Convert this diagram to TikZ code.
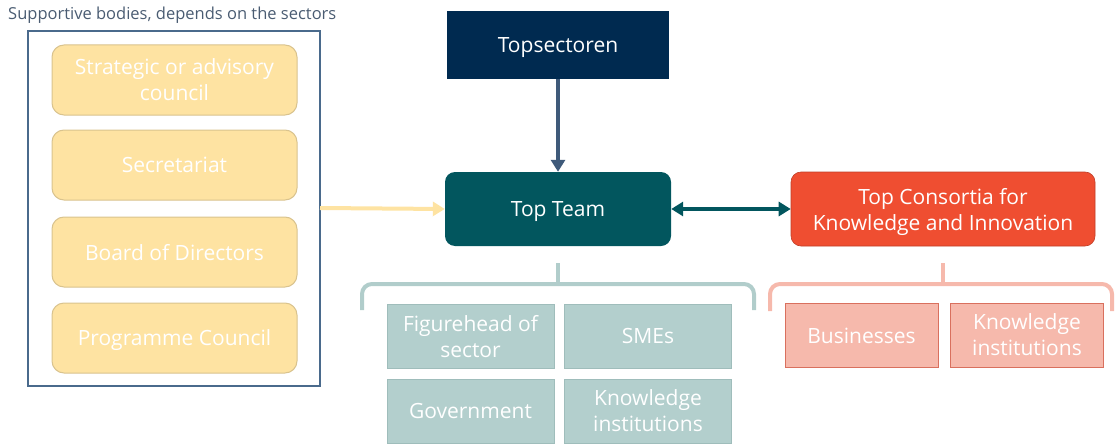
\documentclass[tikz,border=0pt]{standalone}
\usepackage{fontspec}
\setmainfont{Open Sans}
\usetikzlibrary{arrows.meta}
\definecolor{navy}{HTML}{002A50}
\definecolor{teamc}{HTML}{02565E}
\definecolor{consc}{HTML}{EF4E31}
\definecolor{yelf}{HTML}{FEE3A2}
\definecolor{yeld}{HTML}{D9C38E}
\definecolor{tealf}{HTML}{B3CFCD}
\definecolor{teald}{HTML}{9FBDBB}
\definecolor{pinkf}{HTML}{F6B9AC}
\definecolor{pinkd}{HTML}{D9705E}
\definecolor{slate}{HTML}{4A6A8C}
\definecolor{arrdown}{HTML}{3F5A7A}
\definecolor{titlec}{HTML}{4A5C72}
\tikzset{
  txt/.style={font=\fontsize{21}{26}\selectfont, text=white, align=center, inner sep=0pt, text depth=-1.5pt},
  yelbox/.style={txt, draw=yeld, fill=yelf, line width=1pt, rounded corners=12pt, minimum width=245pt, minimum height=70pt},
  tealbox/.style={txt, draw=teald, fill=tealf, line width=1pt, minimum width=167pt, minimum height=64pt},
  pinkbox/.style={txt, draw=pinkd, fill=pinkf, line width=1pt, minimum width=153pt, minimum height=64pt},
  bigarrow/.style={line width=4pt, -{Triangle[length=12pt,width=14pt]}},
  bracec/.style={line width=4pt, rounded corners=10pt}
}
\begin{document}
\begin{tikzpicture}[x=1pt,y=-1pt]
\useasboundingbox (0,0) rectangle (1115,444);
% title
\node[anchor=west, inner sep=0pt, text=titlec, font=\fontsize{16.5}{18}\selectfont] (title) at (8,15) {Supportive bodies, depends on the sectors};
% outer frame
\draw[slate, line width=1.2pt] (28,31) rectangle (320,386);
\coordinate (frameR) at (320,208);
% yellow boxes
\node[yelbox] (strat) at (174.5,80) {Strategic or advisory\\council};
\node[yelbox] (secr) at (174.5,165) {Secretariat};
\node[yelbox] (board) at (174.5,252) {Board of Directors};
\node[yelbox] (prog) at (174.5,338) {Programme Council};
% top boxes
\node[txt, fill=navy, minimum width=222pt, minimum height=68pt] (tops) at (558,45) {Topsectoren};
\node[txt, fill=teamc, rounded corners=10pt, minimum width=226pt, minimum height=74pt] (team) at (558,209) {Top Team};
\node[txt, fill=consc, draw=consc!80!black, line width=0.6pt, rounded corners=10pt, minimum width=304pt, minimum height=74pt] (cons) at (943,209) {Top Consortia for\\Knowledge and Innovation};
% arrows
\draw[bigarrow, arrdown] (tops.south) -- (team.north);
\draw[bigarrow, yelf] (frameR) -- (team.west);
\draw[teamc, line width=4pt, {Triangle[length=12pt,width=14pt]}-{Triangle[length=12pt,width=14pt]}] (team.east) -- (cons.west);
% teal brace
\draw[bracec, tealf!90!teald] (362,310) -- (362,284) -- (558,284);
\draw[bracec, tealf!90!teald] (754,310) -- (754,284) -- (558,284);
\draw[tealf!90!teald, line width=4pt] (558,263) -- (558,286);
% pink brace
\draw[bracec, pinkf] (770,311) -- (770,284) -- (943,284);
\draw[bracec, pinkf] (1112,311) -- (1112,284) -- (943,284);
\draw[pinkf, line width=4pt] (943,263) -- (943,286);
% teal boxes
\node[tealbox] (fig) at (470.5,336) {Figurehead of\\sector};
\node[tealbox] (sme) at (648,336) {SMEs};
\node[tealbox] (gov) at (470.5,411) {Government};
\node[tealbox] (kn1) at (648,411) {Knowledge\\institutions};
% pink boxes
\node[pinkbox] (bus) at (861.5,335.5) {Businesses};
\node[pinkbox] (kn2) at (1027,335) {Knowledge\\institutions};
\end{tikzpicture}
\end{document}
